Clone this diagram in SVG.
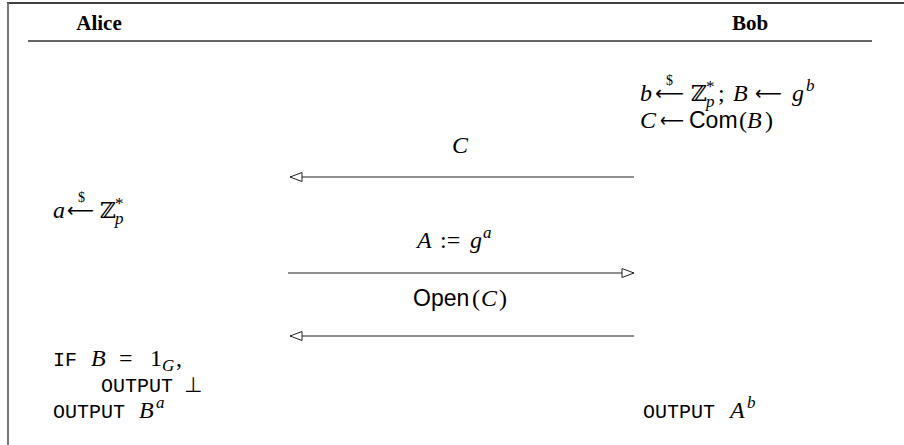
<svg xmlns="http://www.w3.org/2000/svg" width="904" height="445" viewBox="0 0 904 445">
<defs>
<marker id="tri" markerWidth="14" markerHeight="12" refX="13" refY="5" orient="auto" markerUnits="userSpaceOnUse">
<path d="M1,0.5 L13,5 L1,9.5 Z" fill="#fff" stroke="#222" stroke-width="1"/>
</marker>
<style>
.hd{font-family:"Liberation Serif",serif;font-weight:bold;font-size:21px;fill:#000}
.m{font-family:"Liberation Serif","DejaVu Serif",serif;font-size:24px;fill:#000}
.i{font-style:italic}
.ar{font-family:"DejaVu Sans",sans-serif;font-size:20px;fill:#000}
.bb{font-family:"DejaVu Serif",serif;font-size:22px}
.sf{font-family:"Liberation Sans",sans-serif;font-size:23px}
.tt{font-family:"Liberation Mono","DejaVu Sans Mono",monospace;font-size:20px;fill:#000}
.sup{font-size:17px}
.dol{font-family:"Liberation Serif",serif;font-size:14px;fill:#000}
.msg{stroke:#222;stroke-width:1.2;fill:none}
</style>
</defs>
<g id="frame">
<line x1="7" y1="3" x2="904" y2="3" stroke="#000" stroke-width="1.5"/>
<line x1="8" y1="3" x2="8" y2="445" stroke="#777" stroke-width="2"/>
</g>
<g id="header">
<text class="hd" x="99" y="30" text-anchor="middle">Alice</text>
<text class="hd" x="750" y="30" text-anchor="middle">Bob</text>
<line x1="28" y1="41" x2="872" y2="41" stroke="#333" stroke-width="1.5"/>
</g>
<g id="bob-setup">
<text class="m" y="101"><tspan class="i" x="640">b</tspan><tspan class="bb" x="691">ℤ</tspan><tspan class="sup" x="706" dy="-9">*</tspan><tspan class="sup i" x="706" dy="15">p</tspan><tspan x="718" dy="-6">;</tspan><tspan class="i" x="733">B</tspan><tspan class="i" x="792">g</tspan><tspan class="sup i" x="806" dy="-10">b</tspan></text>
<text class="ar" x="655" y="100" textLength="29" lengthAdjust="spacingAndGlyphs">⟵</text>
<text class="dol" x="666" y="85">$</text>
<text class="ar" x="755" y="100" textLength="27" lengthAdjust="spacingAndGlyphs">⟵</text>
<text class="m" y="128"><tspan class="i" x="640">C</tspan><tspan class="sf" x="689">Com</tspan><tspan x="739">(</tspan><tspan class="i" x="747">B</tspan><tspan x="765">)</tspan></text>
<text class="ar" x="660" y="127" textLength="24" lengthAdjust="spacingAndGlyphs">⟵</text>
</g>
<g id="alice-setup">
<text class="m" y="218"><tspan class="i" x="53">a</tspan><tspan class="bb" x="100">ℤ</tspan><tspan class="sup" x="115" dy="-9">*</tspan><tspan class="sup i" x="115" dy="15">p</tspan></text>
<text class="ar" x="67" y="217" textLength="27" lengthAdjust="spacingAndGlyphs">⟵</text>
<text class="dol" x="78" y="202">$</text>
</g>
<g id="messages">
<text class="m i" x="460" y="153" text-anchor="middle">C</text>
<text class="m" y="248"><tspan class="i" x="417">A</tspan><tspan x="440">:=</tspan><tspan class="i" x="470">g</tspan><tspan class="sup i" x="483" dy="-10">a</tspan></text>
<text class="m" y="306"><tspan class="sf" x="413">Open</tspan><tspan x="472">(</tspan><tspan class="i" x="481">C</tspan><tspan x="499">)</tspan></text>
</g>
<g id="connectors">
<line class="msg" x1="634" y1="177" x2="290" y2="177" marker-end="url(#tri)"/>
<line class="msg" x1="288" y1="273" x2="634" y2="273" marker-end="url(#tri)"/>
<line class="msg" x1="634" y1="336" x2="290" y2="336" marker-end="url(#tri)"/>
</g>
<g id="alice-output">
<text class="tt" y="366"><tspan x="53">IF</tspan><tspan class="m i" x="91">B</tspan><tspan class="m" x="119">=</tspan><tspan class="m" x="150">1</tspan><tspan class="m i sup" x="162" dy="5">G</tspan><tspan class="m" x="176" dy="-5">,</tspan></text>
<text class="tt" y="392"><tspan x="101">OUTPUT</tspan><tspan class="ar" x="184" style="font-size:21px">⊥</tspan></text>
<text class="tt" y="418"><tspan x="53">OUTPUT</tspan><tspan class="m i" x="139">B</tspan><tspan class="m i sup" x="156" dy="-10">a</tspan></text>
</g>
<g id="bob-output">
<text class="tt" y="418"><tspan x="643">OUTPUT</tspan><tspan class="m i" x="730">A</tspan><tspan class="m i sup" x="747" dy="-10">b</tspan></text>
</g>
</svg>
